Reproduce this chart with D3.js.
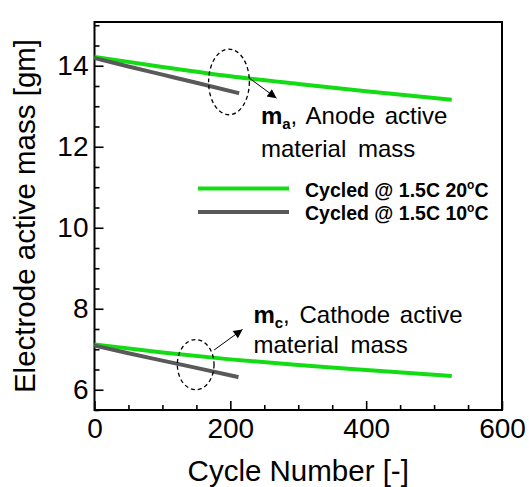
<!DOCTYPE html>
<html>
<head>
<meta charset="utf-8">
<script src="https://cdn.jsdelivr.net/npm/d3@7"></script>
<style>
body { margin: 0; background: #fff; }
text { font-family: "Liberation Sans", Arial, sans-serif; }
</style>
</head>
<body>
<script>
const W = 529, H = 487
const margin = {top: 22, left: 94.5, bottom: 77, right: 27}

// series: cycle number vs electrode active mass [gm]
const anode20 = [[0, 14.22], [100, 13.97], [200, 13.74], [300, 13.55], [400, 13.37], [526, 13.16]]
const anode10 = [[0, 14.19], [50, 13.98], [100, 13.78], [150, 13.58], [213, 13.32]]
const cathode20 = [[0, 7.12], [100, 6.92], [200, 6.75], [300, 6.61], [400, 6.49], [526, 6.34]]
const cathode10 = [[0, 7.09], [50, 6.90], [100, 6.72], [150, 6.54], [212, 6.31]]

const xTicks = [0, 200, 400, 600]
const xMinor = d3.range(0, 601, 50).filter(d => d % 200 !== 0)
const yTicks = [6, 8, 10, 12, 14]
const yMinor = d3.range(5.5, 15.01, 0.5).filter(d => d % 2 !== 0)

const green = '#14dc14'
const gray = '#595959'

let svg = d3.select('body').append('svg')
  .attr('width', W)
  .attr('height', H)

let x = d3.scaleLinear().domain([0, 600]).range([margin.left, W - margin.right])
let y = d3.scaleLinear().domain([5.5, 15.08]).range([H - margin.bottom, margin.top])

// axes with inward ticks
let gx = svg.append('g')
  .attr('transform', `translate(0, ${H - margin.bottom})`)
  .call(d3.axisBottom(x).tickValues(xTicks).tickSize(-9).tickPadding(8.5))
gx.append('g').call(d3.axisBottom(x).tickValues(xMinor).tickSize(-5).tickFormat(''))

let gy = svg.append('g')
  .attr('transform', `translate(${margin.left}, 0)`)
  .call(d3.axisLeft(y).tickValues(yTicks).tickSize(-9).tickPadding(6))
gy.append('g').call(d3.axisLeft(y).tickValues(yMinor).tickSize(-5).tickFormat(''))

svg.selectAll('.domain').remove()
svg.selectAll('.tick line').attr('stroke', '#000').attr('stroke-width', 1.6)
svg.selectAll('.tick text')
  .style('font-family', '"Liberation Sans", Arial, sans-serif')
  .style('font-size', '28px')
  .attr('fill', '#000')

svg.append('rect')
  .attr('x', margin.left)
  .attr('y', margin.top)
  .attr('width', W - margin.left - margin.right)
  .attr('height', H - margin.top - margin.bottom)
  .attr('fill', 'none')
  .attr('stroke', '#000')
  .attr('stroke-width', 2)

// axis titles
svg.append('text')
  .attr('x', (x(0) + x(600)) / 2)
  .attr('y', 481)
  .attr('text-anchor', 'middle')
  .style('font-size', '29.5px')
  .text('Cycle Number [-]')

svg.append('text')
  .attr('transform', `translate(35, ${(y(5.5) + y(15.08)) / 2}) rotate(-90)`)
  .attr('text-anchor', 'middle')
  .style('font-size', '29.5px')
  .text('Electrode active mass [gm]')

// lines
let line = d3.line().x(d => x(d[0])).y(d => y(d[1])).curve(d3.curveMonotoneX)
let series = [
  {data: anode20, color: green},
  {data: cathode20, color: green},
  {data: anode10, color: gray},
  {data: cathode10, color: gray}
]
svg.selectAll('.series')
  .data(series)
  .enter()
  .append('path')
  .attr('d', d => line(d.data))
  .attr('fill', 'none')
  .attr('stroke', d => d.color)
  .attr('stroke-width', 4)

// annotations (data coordinates)
svg.append('defs').append('marker')
  .attr('id', 'arrow')
  .attr('viewBox', '0 0 10 10')
  .attr('refX', 10).attr('refY', 5)
  .attr('markerWidth', 12).attr('markerHeight', 9)
  .attr('markerUnits', 'userSpaceOnUse')
  .attr('orient', 'auto')
  .append('path')
  .attr('d', 'M0,0 L10,5 L0,10 Z')
  .attr('fill', '#000')

const ellipses = [
  {cx: 198, cy: 13.6, rx: 30, ry: 0.81},
  {cx: 149, cy: 6.62, rx: 27, ry: 0.62}
]
svg.selectAll('.ell')
  .data(ellipses)
  .enter()
  .append('ellipse')
  .attr('cx', d => x(d.cx))
  .attr('cy', d => y(d.cy))
  .attr('rx', d => x(d.rx) - x(0))
  .attr('ry', d => y(0) - y(d.ry))
  .attr('fill', 'none')
  .attr('stroke', '#000')
  .attr('stroke-width', 1.3)
  .attr('stroke-dasharray', '4,3')

const arrows = [
  [[227.5, 13.70], [268, 13.2]],
  [[176, 6.98], [218, 7.49]]
]
svg.selectAll('.arr')
  .data(arrows)
  .enter()
  .append('line')
  .attr('x1', d => x(d[0][0])).attr('y1', d => y(d[0][1]))
  .attr('x2', d => x(d[1][0])).attr('y2', d => y(d[1][1]))
  .attr('stroke', '#000')
  .attr('stroke-width', 1)
  .attr('marker-end', 'url(#arrow)')

const notes = [
  {x: 245, y: 12.55, y2: 11.75, sub: 'a', label: 'Anode active'},
  {x: 234, y: 7.65, y2: 6.91, sub: 'c', label: 'Cathode active'}
]
notes.forEach(n => {
  let t = svg.append('text')
    .attr('x', x(n.x)).attr('y', y(n.y))
    .style('font-size', '24px')
    .style('word-spacing', '3px')
  t.append('tspan').attr('font-weight', 'bold').text('m')
  t.append('tspan').attr('font-weight', 'bold').attr('font-size', '15px').attr('dy', 5).text(n.sub)
  t.append('tspan').attr('dy', -5).text(', ' + n.label)
  svg.append('text')
    .attr('x', x(n.x)).attr('y', y(n.y2))
    .style('font-size', '24px')
    .style('word-spacing', '5px')
    .text('material mass')
})

// legend
const legendItems = [
  {label: '20', color: green},
  {label: '10', color: gray}
]
let lg = svg.append('g').attr('transform', 'translate(198, 188.5)')
legendItems.forEach((d, i) => {
  lg.append('line')
    .attr('x1', 0).attr('x2', 91)
    .attr('y1', i * 23.5).attr('y2', i * 23.5)
    .attr('stroke', d.color)
    .attr('stroke-width', 4)
  let t = lg.append('text')
    .attr('x', 107).attr('y', i * 23.5 + 8)
    .attr('font-weight', 'bold')
    .style('font-size', '19.5px')
  t.append('tspan').text('Cycled @ 1.5C ' + d.label)
  t.append('tspan').attr('font-size', '12px').attr('dy', -8).text('o')
  t.append('tspan').attr('dy', 8).text('C')
})
</script>
</body>
</html>
